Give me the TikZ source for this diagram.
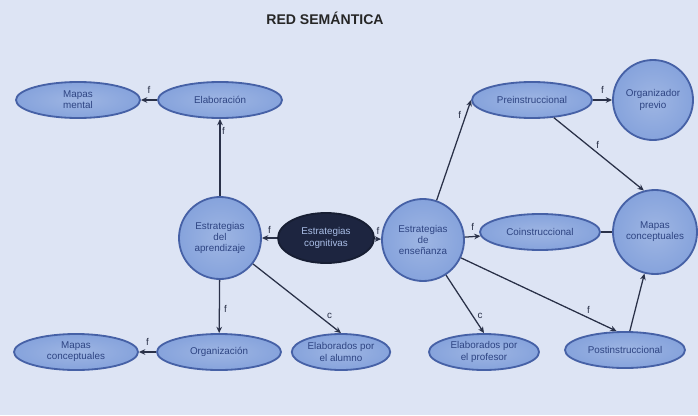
\documentclass[tikz,border=0pt]{standalone}
\usepackage{fontspec}
\setsansfont{Liberation Sans}
\usetikzlibrary{shapes.geometric,arrows.meta}
\definecolor{paper}{HTML}{DDE4F4}
\definecolor{nodefill}{HTML}{86A3DC}
\definecolor{nodeline}{HTML}{4661A6}
\definecolor{nodetext}{HTML}{2E4482}
\definecolor{darkfill}{HTML}{1D2540}
\definecolor{linkcol}{HTML}{2A3148}
\begin{document}
\begin{tikzpicture}[x=0.025cm,y=-0.025cm,
    oval_node/.style={ellipse,draw=nodeline,line width=1.3pt,inner color=nodefill!80!white,outer color=nodefill,minimum width=3.1cm,minimum height=0.9cm,inner sep=1pt,font=\sffamily\scriptsize,text=nodetext,align=center},
    round_node/.style={circle,draw=nodeline,line width=1.3pt,inner color=nodefill!80!white,outer color=nodefill,minimum size=2.05cm,inner sep=1pt,font=\sffamily\scriptsize,text=nodetext,align=center},
    dark_node/.style={ellipse,draw=darkfill!80!black,line width=1.3pt,fill=darkfill,minimum width=2.4cm,minimum height=1.25cm,inner sep=1pt,font=\sffamily\scriptsize,text=nodefill!70!white,align=center},
    link/.style={-{Stealth[length=4.5pt,width=4pt]},line width=0.9pt,draw=linkcol},
    tag/.style={font=\sffamily\scriptsize,text=linkcol,inner sep=1pt}]
    \fill[paper] (0,0) rectangle (698,415);
    \node[font=\sffamily\bfseries,text=black!85] (title) at (325,18) {RED SEMÁNTICA};
    % left side
    \node[oval_node] (mental) at (78,100) {Mapas\\mental};
    \node[oval_node] (elab) at (220,100) {Elaboración};
    \node[round_node] (aprend) at (220,238) {Estrategias\\del\\aprendizaje};
    \node[dark_node] (cogn) at (326,238) {Estrategias\\cognitivas};
    \node[oval_node] (mapasizq) at (76,352) {Mapas\\conceptuales};
    \node[oval_node] (organiz) at (219,352) {Organización};
    \node[oval_node,minimum width=2.4cm] (alumno) at (341,352) {Elaborados por\\el alumno};
    % right side
    \node[round_node] (ensen) at (423,240) {Estrategias\\de\\enseñanza};
    \node[oval_node,minimum width=3cm] (pre) at (532,100) {Preinstruccional};
    \node[round_node,minimum size=2cm] (previo) at (653,100) {Organizador\\previo};
    \node[oval_node,minimum width=3cm] (coin) at (540,232) {Coinstruccional};
    \node[round_node,minimum size=2.1cm] (mapasder) at (655,232) {Mapas\\conceptuales};
    \node[oval_node,minimum width=2.75cm] (profesor) at (484,352) {Elaborados por\\el profesor};
    \node[oval_node,minimum width=3cm] (post) at (625,350) {Postinstruccional};
    % connectors
    \draw[link] (elab) -- node[tag,above=3pt] {f} (mental);
    \draw[link] (aprend) -- node[tag,pos=0.85,right] {f} (elab);
    \draw[link] (cogn) -- node[tag,above=2pt] {f} (aprend);
    \draw[link] (cogn) -- node[tag,above=2pt] {f} (ensen);
    \draw[link] (aprend) -- node[tag,pos=0.55,right=2pt] {f} (organiz);
    \draw[link] (aprend) -- node[tag,pos=0.82,above right] {c} (alumno.north);
    \draw[link] (organiz) -- node[tag,above=3pt] {f} (mapasizq);
    \draw[link] (ensen) -- node[tag,pos=0.85,left=2pt] {f} (pre.west);
    \draw[link] (pre) -- node[tag,above=3pt] {f} (previo);
    \draw[link] (pre) -- node[tag,pos=0.45,above right] {f} (mapasder.105);
    \draw[link] (ensen) -- node[tag,above=3pt] {f} (coin);
    \draw[line width=0.9pt,draw=linkcol] (coin) -- (mapasder);
    \draw[link] (ensen) -- node[tag,pos=0.78,above right] {c} (profesor.north);
    \draw[link] (ensen) -- node[tag,pos=0.82,above=2pt] {f} ([xshift=-6]post.north);
    \draw[link] (post) -- (mapasder);
\end{tikzpicture}
\end{document}
